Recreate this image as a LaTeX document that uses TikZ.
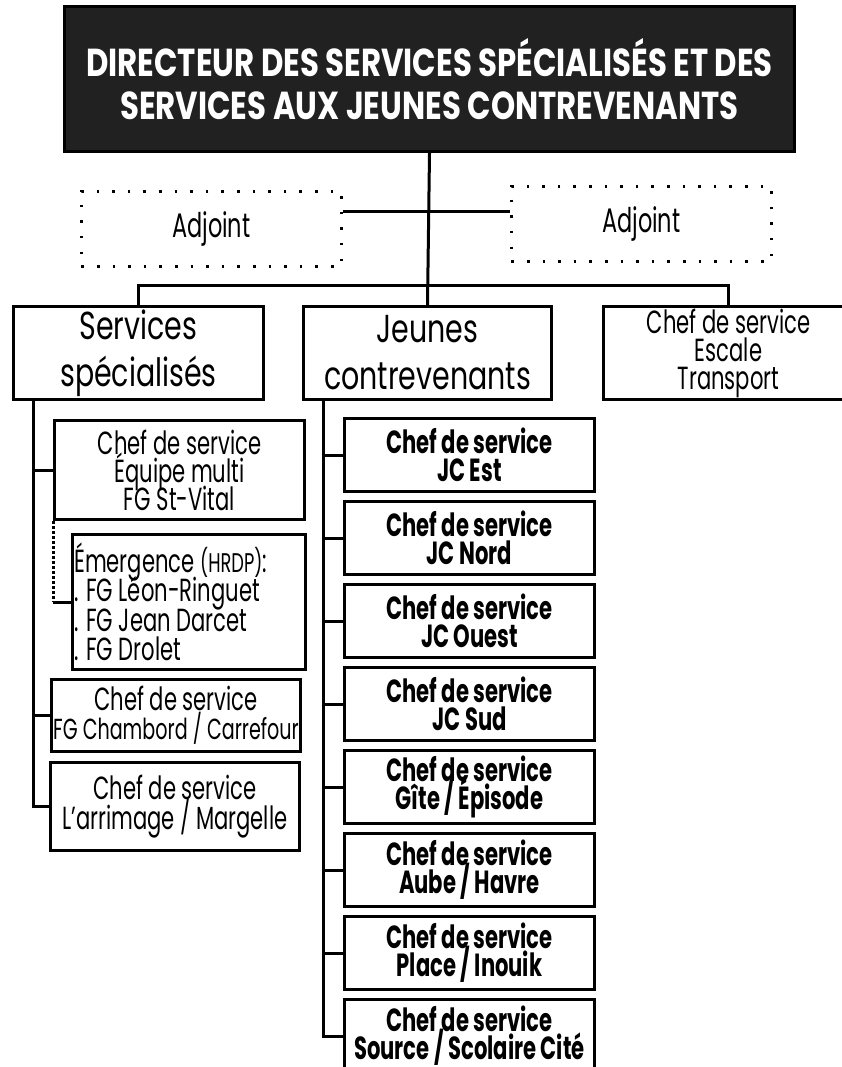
\documentclass[tikz,border=0pt]{standalone}
\usepackage{fontspec}
\setmainfont{Poppins}[FakeStretch=0.66]
\newfontfamily\grandfont{Poppins}[FakeStretch=0.73]
\newfontfamily\titrefont{Poppins}[FakeStretch=0.79]
\usepackage{tikz}

\newcommand\taille[2]{\fontsize{#1}{#2}\selectfont\lineskiplimit=-100pt\relax}

\tikzset{
  trait/.style={line width=3pt},
  boite/.style={draw, line width=3pt, inner sep=0pt, anchor=north west},
  texte/.style={inner sep=0pt, align=center, font=\taille{32}{28}},
  titre/.style={boite, align=center, fill=black!87, text=white,
    font=\titrefont\bfseries\taille{39}{43}},
  adjoint/.style={boite, line width=2.6pt, dash pattern=on 2.6pt off 13pt,
    font=\taille{34}{34}},
  grande/.style={texte, font=\grandfont\taille{39}{47}},
  jctexte/.style={texte, font=\bfseries\taille{32}{28}}
}

\begin{document}
\begin{tikzpicture}[x=1pt,y=-1pt]
\useasboundingbox (0,0) rectangle (841,1067);

\node[titre, minimum width=730pt, minimum height=145pt] (dir) at (63,5)
  {DIRECTEUR DES SERVICES SPÉCIALISÉS ET DES\\SERVICES AUX JEUNES CONTREVENANTS};

\node[adjoint, minimum width=260pt, minimum height=75pt] (adjg) at (80,190) {Adjoint};
\node[adjoint, minimum width=260pt, minimum height=75pt] (adjd) at (510,185) {Adjoint};

\node[boite, minimum width=250pt, minimum height=93pt,
  label={[grande]center:Services\\spécialisés}] (serv) at (12,305) {};
\node[boite, minimum width=248pt, minimum height=93pt,
  label={[grande]center:Jeunes\\contrevenants}] (jeunes) at (302,305) {};
\node[boite, minimum width=250pt, minimum height=93pt,
  label={[texte]center:Chef de service\\Escale\\Transport}] (escale) at (602,305) {};

\node[boite, minimum width=250pt, minimum height=99pt,
  label={[texte]center:Chef de service\\Équipe multi\\FG St-Vital}] (equipe) at (53,419) {};
\node[boite, minimum width=233pt, minimum height=135pt] (emerg) at (71,533) {};
\node[texte, align=left, anchor=west, font=\taille{32}{29.5}] (emerg-t)
  at ([xshift=3pt]emerg.west)
  {Émergence {\fontsize{27}{29.5}\selectfont(HRDP)}:\\. FG Léon-Ringuet\\. FG Jean Darcet\\. FG Drolet};
\node[boite, minimum width=249pt, minimum height=72pt,
  label={[texte, font=\taille{32}{29}]center:Chef de service\\{\fontsize{29}{29}\selectfont FG Chambord / Carrefour}}]
  (chambord) at (50,678) {};
\node[boite, minimum width=249pt, minimum height=88pt,
  label={[texte, font=\taille{32}{30}]center:Chef de service\\L’arrimage / Margelle}]
  (arrim) at (49,761) {};

\foreach \i/\nom in {0/JC Est,1/JC Nord,2/JC Ouest,3/JC Sud,4/{Gîte / Épisode},
    5/{Aube / Havre},6/{Place / Inouik},7/{Source / Scolaire Cité}}
  \node[boite, minimum width=250pt, minimum height=73pt,
    label={[jctexte]center:Chef de service\\\nom}] (jc\i) at (343,417+83*\i) {};

\draw[trait] (dir.south) -- (jeunes.north);
\draw[trait] (adjg.east |- 0,212) -- (adjd.west |- 0,212);
\draw[trait] (serv.north) -- (serv.north |- 0,285) -| (escale.north);

\draw[trait] ([xshift=21pt]serv.south west) |- (arrim.west);
\draw[trait] ([xshift=21pt]serv.south west) |- (equipe.west);
\draw[trait] ([xshift=21pt]serv.south west) |- (chambord.west);
\draw[line width=3pt, dotted] (equipe.south west) -- (equipe.south west |- emerg.west);
\draw[trait] (equipe.south west |- emerg.west) -- (emerg.west);

\foreach \i in {0,...,7}
  \draw[trait] ([xshift=21pt]jeunes.south west) |- (jc\i.west);
\end{tikzpicture}
\end{document}
